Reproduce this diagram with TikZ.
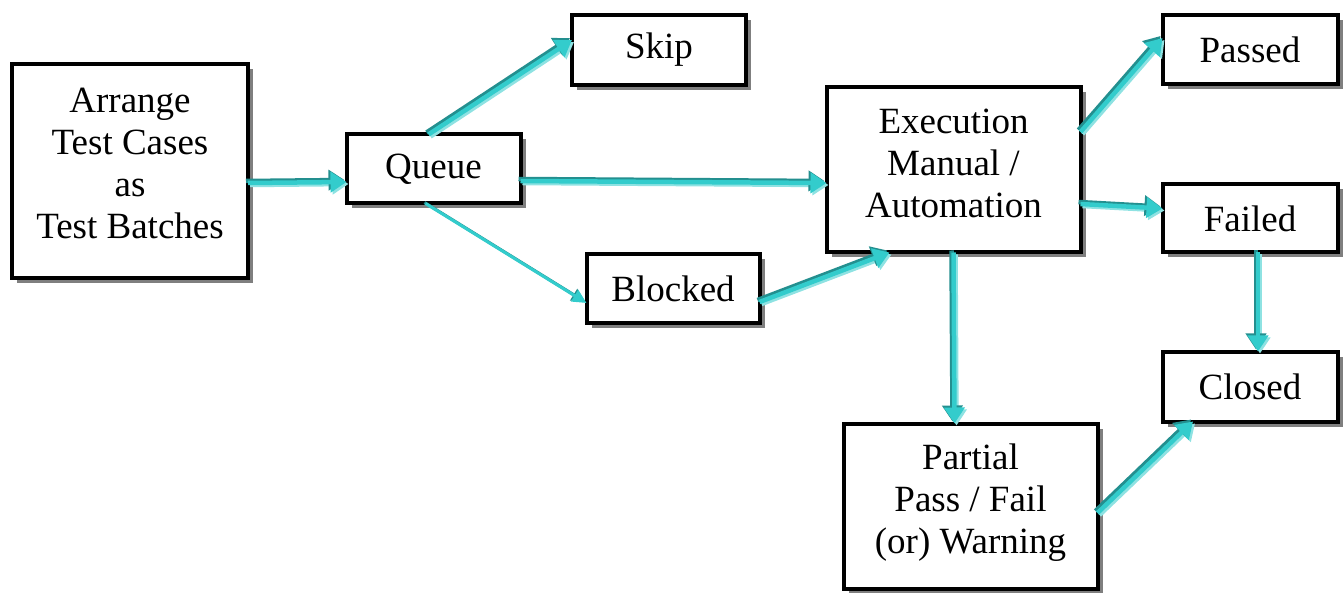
\documentclass[tikz,border=0pt]{standalone}
\usepackage{fontspec}
\setmainfont{Liberation Serif}
\usetikzlibrary{arrows.meta,shadows,calc}
\definecolor{arrmain}{HTML}{33CCCC}
\definecolor{arrdark}{HTML}{238F8F}
\definecolor{arrlight}{HTML}{8EE2E2}
\definecolor{shadowgray}{HTML}{7F7F7F}
\tikzset{
  box/.style={draw=black, line width=4pt, fill=white, align=center,
    inner sep=0pt, outer sep=0pt,
    font=\fontsize{37}{42}\selectfont,
    drop shadow={shadow xshift=5pt, shadow yshift=-5pt, fill=shadowgray, opacity=1}},
  fat/.style={line width=4.5pt, draw=arrmain, line cap=butt,
    -{Triangle[width=20pt,length=16pt]},
    preaction={draw=arrlight, line width=4.5pt, transform canvas={shift={(2pt,-2pt)}}},
    preaction={draw=arrdark, line width=4.5pt, transform canvas={shift={(-2pt,2pt)}}}},
  thin/.style={line width=3pt, draw=arrmain, line cap=butt,
    -{Triangle[width=13pt,length=14pt]},
    preaction={draw=arrdark, line width=3pt, transform canvas={shift={(-1pt,1pt)}}}},
}
\begin{document}
\begin{tikzpicture}[x=1pt,y=-1pt]
\useasboundingbox (0,0) rectangle (1343,593);
\node[box, minimum width=236pt, minimum height=214pt, text depth=16pt] (arr) at (130,171) {Arrange\\Test Cases\\as\\Test Batches};
\node[box, minimum width=174pt, minimum height=69pt] (queue) at (433.5,169) {Queue};
\node[box, minimum width=174pt, minimum height=70pt] (skip) at (659,50) {Skip};
\node[box, minimum width=173pt, minimum height=69pt] (blocked) at (673,289) {Blocked};
\node[box, minimum width=254pt, minimum height=165pt, text depth=14pt] (exec) at (953.5,170) {Execution\\Manual /\\Automation};
\node[box, minimum width=254pt, minimum height=165pt, text depth=14pt] (partial) at (970.5,506) {Partial\\Pass / Fail\\(or) Warning};
\node[box, minimum width=175pt, minimum height=69pt] (passed) at (1250,50) {Passed};
\node[box, minimum width=175pt, minimum height=68pt] (failed) at (1250,218.5) {Failed};
\node[box, minimum width=175pt, minimum height=70pt] (closed) at (1250,386.5) {Closed};

\draw[fat] ([yshift=-12pt]arr.east) -- ([yshift=-13pt]queue.west);
\draw[fat] ([xshift=-5pt]queue.north) -- ([yshift=10pt]skip.west);
\draw[fat] ([yshift=-12pt]queue.east) -- ([yshift=-13pt]exec.west);
\draw[thin] ([xshift=-8pt]queue.south) -- ([yshift=-14pt]blocked.west);
\draw[fat] ([yshift=-13pt]blocked.east) -- ([xshift=-64pt]exec.south);
\draw[fat] ([yshift=38pt]exec.east) -- ([yshift=12pt]passed.west);
\draw[fat] ([yshift=-34pt]exec.east) -- ([yshift=10pt]failed.west);
\draw[fat] (exec.south) -- ([xshift=-16pt]partial.north);
\draw[fat] ([xshift=8pt]failed.south) -- ([xshift=8pt]closed.north);
\draw[fat] ([yshift=-7pt]partial.east) -- ([xshift=-57pt]closed.south);
\end{tikzpicture}
\end{document}
